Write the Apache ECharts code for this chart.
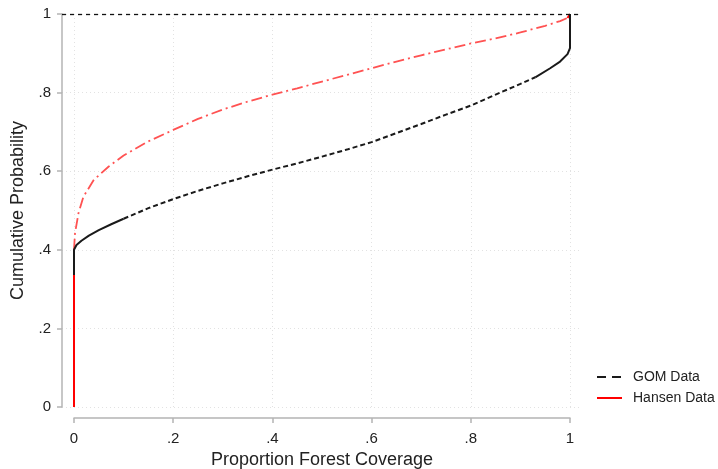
<!DOCTYPE html>
<html>
<head>
<meta charset="utf-8">
<script src="https://cdn.jsdelivr.net/npm/echarts@6/dist/echarts.min.js"></script>
<style>
  html, body { margin: 0; padding: 0; background: #fff; }
  #chart { width: 718px; height: 469px; }
</style>
</head>
<body>
<div id="chart"></div>
<script>
// cumulative distribution of forest cover
var gomX = [0, 0, 0.005, 0.015, 0.03, 0.05, 0.075, 0.1, 0.15, 0.2, 0.25, 0.3, 0.35, 0.4, 0.45, 0.5,
  0.55, 0.6, 0.65, 0.7, 0.75, 0.8, 0.85, 0.9, 0.93, 0.96, 0.98, 0.995, 1, 1];
var gomY = [0.336, 0.4, 0.412, 0.423, 0.436, 0.45, 0.465, 0.479, 0.506, 0.529, 0.55, 0.569, 0.587, 0.604, 0.62, 0.637,
  0.655, 0.674, 0.697, 0.72, 0.744, 0.767, 0.795, 0.822, 0.839, 0.862, 0.879, 0.898, 0.913, 1];
var hanX = [0, 0, 0.002, 0.009, 0.019, 0.04, 0.07, 0.1, 0.15, 0.2, 0.25, 0.3, 0.35, 0.4, 0.45, 0.5,
  0.55, 0.6, 0.65, 0.7, 0.75, 0.8, 0.85, 0.9, 0.95, 0.98, 0.995, 1];
var hanY = [0, 0.4, 0.442, 0.493, 0.535, 0.578, 0.612, 0.64, 0.676, 0.705, 0.733, 0.757, 0.777, 0.795, 0.811, 0.828,
  0.845, 0.862, 0.879, 0.895, 0.91, 0.925, 0.938, 0.953, 0.97, 0.982, 0.99, 1];

// where the dashes look solid (dense points in the original)
var gomSolidStart = 7;   // up to x = 0.1
var gomSolidEnd = 24;    // from x = 0.93
var hanSolidStart = 1;

function pts(xs, ys, a, b) {
  var out = [];
  for (var i = a; i <= b; i++) out.push([xs[i], ys[i]]);
  return out;
}

function fmt(v) {
  var s = (+v).toFixed(1);
  if (s === '0.0') return '0';
  if (s === '1.0') return '1';
  return s.replace(/^0/, '');
}

var font = 'Liberation Sans, Arial, sans-serif';
var axisGray = '#b4b4b4';
var gridLine = { show: true, lineStyle: { color: '#e2e2e2', type: [1, 3], width: 1 } };

var chart = echarts.init(document.getElementById('chart'));
chart.setOption({
  animation: false,
  backgroundColor: '#fff',
  textStyle: { fontFamily: font },
  grid: [
    { left: 74, right: 148, top: 14, bottom: 62, outerBoundsMode: 'none', containLabel: false },
    { left: 62, right: 136, top: 14, bottom: 62, outerBoundsMode: 'none', containLabel: false }
  ],
  legend: {
    data: [
      { name: 'GOM Data', lineStyle: { type: [9, 6], width: 2 } },
      { name: 'Hansen Data', lineStyle: { type: 'solid', width: 2, color: '#ff0000' } }
    ],
    orient: 'vertical',
    left: 596,
    top: 370,
    padding: 0,
    itemWidth: 25,
    itemHeight: 14,
    itemGap: 7,
    itemStyle: { color: 'rgba(0,0,0,0)', borderWidth: 0 },
    textStyle: { fontFamily: font, fontSize: 14, color: '#222', padding: [0, 0, 0, 6] }
  },
  xAxis: [{
    type: 'value', gridIndex: 0, min: 0, max: 1, interval: 0.2,
    name: 'Proportion Forest Coverage', nameLocation: 'middle', nameGap: 32,
    nameTextStyle: { fontFamily: font, fontSize: 18, color: '#222' },
    offset: 11,
    axisLine: { show: true, onZero: false, lineStyle: { color: axisGray, width: 1.5 } },
    axisTick: { show: true, length: 5, lineStyle: { color: axisGray, width: 1.5 } },
    axisLabel: { fontFamily: font, fontSize: 15, color: '#222', margin: 13, formatter: fmt },
    splitLine: gridLine
  }, {
    type: 'value', gridIndex: 1, min: 0, max: 1, show: false
  }],
  yAxis: [{
    type: 'value', gridIndex: 0, min: 0, max: 1, interval: 0.2,
    name: 'Cumulative Probability', nameLocation: 'middle', nameGap: 35,
    nameTextStyle: { fontFamily: font, fontSize: 18, color: '#222' },
    offset: 12,
    axisLine: { show: true, onZero: false, lineStyle: { color: axisGray, width: 1.5 } },
    axisTick: { show: true, length: 5, lineStyle: { color: axisGray, width: 1.5 } },
    axisLabel: { fontFamily: font, fontSize: 15, color: '#222', margin: 11, formatter: fmt },
    splitLine: { show: false }
  }, {
    type: 'value', gridIndex: 1, min: 0, max: 1, interval: 0.2,
    axisLine: { show: false }, axisTick: { show: false }, axisLabel: { show: false },
    splitLine: gridLine
  }],
  series: [
    {
      name: 'Hansen Data', type: 'line', xAxisIndex: 0, yAxisIndex: 0, symbol: 'none',
      data: pts(hanX, hanY, 0, hanSolidStart),
      lineStyle: { color: '#ff0000', width: 2 }, itemStyle: { color: '#ff0000' }
    },
    {
      name: 'Hansen Data', type: 'line', xAxisIndex: 0, yAxisIndex: 0, symbol: 'none',
      data: pts(hanX, hanY, hanSolidStart, hanX.length - 2),
      lineStyle: { color: '#ff5252', width: 1.8, type: [11, 4, 2, 4] }, itemStyle: { color: '#ff0000' }
    },
    {
      name: 'Hansen Data', type: 'line', xAxisIndex: 0, yAxisIndex: 0, symbol: 'none',
      data: pts(hanX, hanY, hanX.length - 2, hanX.length - 1),
      lineStyle: { color: '#ff0000', width: 2 }, itemStyle: { color: '#ff0000' }
    },
    {
      name: 'GOM Data', type: 'line', xAxisIndex: 0, yAxisIndex: 0, symbol: 'none',
      data: pts(gomX, gomY, gomSolidStart, gomSolidEnd),
      lineStyle: { color: '#1a1a1a', width: 2, type: [5, 3] }, itemStyle: { color: '#1a1a1a' }
    },
    {
      name: 'GOM Data', type: 'line', xAxisIndex: 0, yAxisIndex: 0, symbol: 'none',
      data: pts(gomX, gomY, 0, gomSolidStart),
      lineStyle: { color: '#1a1a1a', width: 2 }, itemStyle: { color: '#1a1a1a' }
    },
    {
      name: 'GOM Data', type: 'line', xAxisIndex: 0, yAxisIndex: 0, symbol: 'none',
      data: pts(gomX, gomY, gomSolidEnd, gomX.length - 1),
      lineStyle: { color: '#1a1a1a', width: 2 }, itemStyle: { color: '#1a1a1a' }
    },
    {
      // reference line at probability 1, spans the wider grid
      name: 'ref', type: 'line', xAxisIndex: 1, yAxisIndex: 1, symbol: 'none', data: [],
      markLine: {
        silent: true, symbol: 'none', label: { show: false },
        lineStyle: { color: '#111', type: [4, 4], width: 1.3 },
        data: [{ yAxis: 1 }]
      }
    }
  ]
});
</script>
</body>
</html>
